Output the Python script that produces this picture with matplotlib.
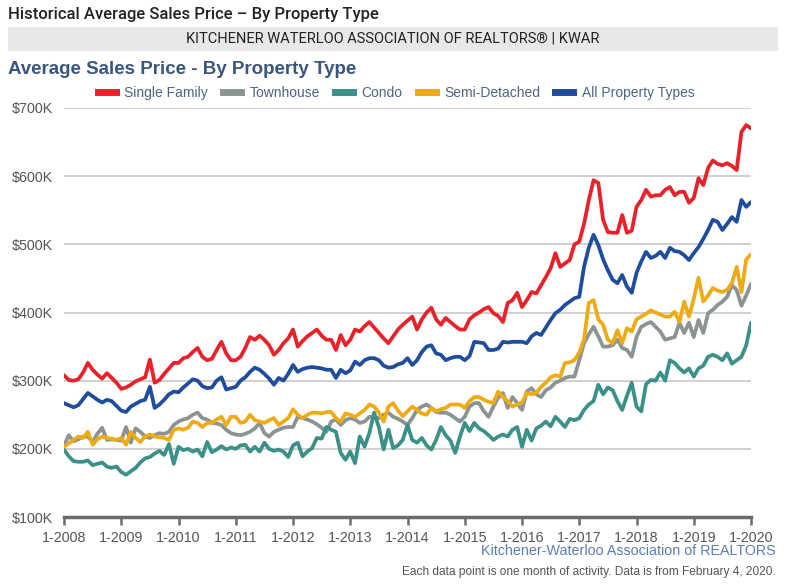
import numpy as np
import matplotlib
matplotlib.use('Agg')
import matplotlib.pyplot as plt
from matplotlib.lines import Line2D
from matplotlib.patches import Rectangle

plt.rcParams['font.family'] = ['Liberation Sans', 'DejaVu Sans']

# monthly average price in $K, Jan 2008 .. Jan 2020
single_family = [
    308, 301, 300, 302, 312, 326, 316, 309, 303, 311, 304, 297,
    288, 290, 294, 299, 302, 305, 331, 297, 301, 310, 318, 326,
    326, 333, 335, 342, 348, 335, 330, 332, 345, 357, 340, 330,
    330, 335, 348, 364, 360, 366, 360, 352, 338, 345, 355, 362,
    375, 350, 358, 365, 370, 375, 366, 360, 360, 345, 367, 352,
    360, 375, 372, 380, 386, 378, 370, 362, 355, 365, 375, 382,
    388, 394, 375, 390, 400, 407, 390, 382, 392, 386, 380, 375,
    375, 390, 396, 400, 405, 408, 399, 395, 386, 414, 418, 429,
    408, 418, 430, 428, 440, 452, 465, 487, 467, 472, 477, 500,
    504, 530, 565, 594, 590, 536, 518, 517, 517, 543, 517, 520,
    555, 565, 580, 570, 572, 572, 580, 584, 572, 577, 577, 561,
    568, 597, 587, 612, 623, 618, 616, 619, 615, 609, 665, 675,
    670]
townhouse = [
    205, 220, 211, 214, 218, 218, 210, 222, 231, 213, 214, 213,
    212, 232, 209, 230, 225, 218, 216, 220, 223, 222, 225, 235,
    240, 243, 245, 250, 253, 245, 243, 238, 237, 235, 228, 223,
    221, 220, 222, 225, 230, 238, 223, 218, 225, 228, 231, 232,
    232, 247, 245, 243, 240, 236, 231, 225, 240, 243, 235, 242,
    245, 243, 238, 240, 247, 246, 245, 250, 253, 247, 244, 240,
    235, 245, 257, 262, 265, 260, 254, 253, 253, 250, 245, 240,
    247, 262, 267, 267, 255, 247, 262, 275, 282, 260, 276, 267,
    257, 284, 289, 280, 276, 286, 290, 297, 300, 304, 306, 306,
    330, 355, 368, 379, 365, 350, 350, 352, 360, 348, 345, 335,
    364, 379, 383, 386, 379, 372, 360, 362, 364, 385, 370, 385,
    364, 389, 370, 399, 404, 411, 416, 423, 440, 433, 410, 425,
    442]
condo = [
    199, 189, 182, 181, 181, 183, 176, 178, 180, 174, 172, 174,
    166, 162, 167, 172, 180, 186, 188, 193, 197, 191, 207, 178,
    203, 198, 200, 196, 199, 189, 210, 195, 199, 204, 199, 202,
    200, 205, 206, 196, 203, 196, 209, 200, 197, 199, 196, 188,
    205, 209, 189, 196, 201, 216, 215, 232, 228, 225, 194, 184,
    196, 179, 218, 203, 223, 253, 232, 199, 228, 201, 205, 213,
    235, 213, 209, 216, 205, 199, 213, 232, 220, 212, 194, 218,
    238, 226, 238, 230, 226, 220, 213, 218, 221, 218, 228, 232,
    203, 228, 212, 230, 234, 240, 233, 247, 240, 232, 244, 242,
    245, 257, 265, 270, 294, 280, 290, 286, 270, 257, 278, 297,
    262, 255, 295, 301, 300, 312, 300, 330, 326, 318, 312, 318,
    306, 318, 322, 335, 338, 335, 330, 340, 325, 330, 335, 352,
    385]
semi_detached = [
    203, 208, 213, 218, 216, 225, 206, 214, 218, 216, 215, 213,
    216, 206, 225, 216, 210, 218, 221, 218, 217, 216, 213, 228,
    230, 228, 231, 240, 238, 232, 238, 238, 243, 247, 235, 247,
    247, 238, 240, 250, 242, 240, 238, 242, 245, 235, 240, 245,
    258, 250, 245, 250, 253, 253, 252, 254, 254, 245, 240, 252,
    250, 247, 252, 257, 265, 262, 253, 240, 262, 267, 256, 248,
    255, 262, 257, 252, 250, 260, 255, 258, 260, 265, 265, 265,
    260, 270, 276, 276, 272, 269, 267, 284, 276, 270, 262, 265,
    268, 282, 280, 282, 291, 297, 305, 308, 306, 326, 327, 330,
    341, 360, 414, 418, 390, 382, 360, 355, 374, 355, 377, 372,
    390, 394, 398, 403, 400, 397, 394, 394, 401, 386, 416, 394,
    420, 451, 416, 425, 436, 432, 430, 433, 443, 467, 430, 478,
    485]
all_types = [
    267, 264, 261, 264, 273, 282, 277, 272, 268, 272, 270, 263,
    256, 254, 262, 266, 270, 272, 291, 260, 265, 272, 280, 284,
    283, 290, 296, 302, 300, 292, 289, 290, 300, 305, 287, 289,
    291, 300, 305, 313, 319, 316, 310, 303, 294, 304, 300, 310,
    323, 313, 317, 319, 320, 319, 318, 316, 316, 304, 316, 311,
    315, 328, 323, 330, 333, 333, 330, 322, 319, 320, 324, 326,
    333, 323, 330, 342, 350, 352, 340, 338, 330, 333, 335, 335,
    330, 336, 357, 356, 355, 345, 345, 347, 357, 356, 357, 357,
    357, 355, 365, 370, 367, 378, 389, 399, 404, 411, 416, 421,
    423, 467, 495, 514, 499, 478, 462, 448, 443, 455, 438, 429,
    458, 475, 489, 480, 483, 489, 480, 495, 490, 489, 484, 477,
    487, 496, 508, 521, 536, 533, 521, 530, 540, 533, 565, 555,
    562]

series_names = ['Single Family', 'Townhouse', 'Condo', 'Semi-Detached', 'All Property Types']
series_data = [single_family, townhouse, condo, semi_detached, all_types]
colors = ['#e8212b', '#8b9393', '#3b9088', '#efab16', '#1f4c9c']
year_labels = ['1-%d' % y for y in range(2008, 2021)]
y_ticks = [100, 200, 300, 400, 500, 600, 700]

fig = plt.figure(figsize=(8, 5.88), dpi=100)

# header texts
fig.text(8/800, 1-14/588, 'Historical Average Sales Price \u2013 By Property Type',
         fontsize=12, family='Roboto', fontweight='medium', color='#222222', va='center')
fig.patches.append(Rectangle((8/800, 1-51/588), 770/800, 24/588, transform=fig.transFigure,
                             facecolor='#e8e8e8', edgecolor='none'))
fig.text(393/800, 1-39/588, 'KITCHENER WATERLOO ASSOCIATION OF REALTORS\u00ae | KWAR',
         fontsize=10.5, family='Roboto', color='#222222', ha='center', va='center')
fig.text(8/800, 1-70/588, 'Average Sales Price - By Property Type',
         fontsize=13.5, fontweight='bold', color='#3a5680', va='center')

ax = fig.add_axes([64/800, 1-517/588, 687/800, 409/588])
months = np.arange(len(single_family))
order = [1, 2, 3, 4, 0]
for i in order:
    ax.plot(months, series_data[i], color=colors[i], lw=2.7, solid_joinstyle='round',
            solid_capstyle='round', zorder=3)

ax.set_xlim(0, 144)
ax.set_ylim(100, 700)
ax.set_yticks(y_ticks)
ax.set_yticklabels(['$%dK' % v for v in y_ticks])
ax.set_xticks(np.arange(0, 145, 12))
ax.set_xticklabels(year_labels)
ax.grid(axis='y', color='#c8c8c8', lw=1.2)
ax.set_axisbelow(True)
for s in ['top', 'right', 'left']:
    ax.spines[s].set_visible(False)
ax.spines['bottom'].set_color('#6b6b6b')
ax.spines['bottom'].set_linewidth(2.5)
ax.spines['bottom'].set_zorder(4)
ax.tick_params(axis='x', length=6, width=1.8, color='#6b6b6b', labelsize=10.3,
               labelcolor='#555555', pad=4)
ax.tick_params(axis='y', length=0, labelsize=10.3, labelcolor='#555555', pad=8)

handles = [Line2D([0], [0], color=c, lw=5) for c in colors]
fig.legend(handles, series_names, loc='center', bbox_to_anchor=(396/800, 1-93/588),
           ncol=5, frameon=False, fontsize=10, handlelength=1.3, handletextpad=0.6,
           columnspacing=1.1, labelcolor='#4d6585')

fig.text(776/800, 1-551/588, 'Kitchener-Waterloo Association of REALTORS',
         fontsize=10.3, color='#5a7db3', ha='right', va='center')
fig.text(776/800, 1-572/588, 'Each data point is one month of activity. Data is from February 4, 2020.',
         fontsize=8.6, color='#555555', ha='right', va='center')

fig.savefig('out.png', dpi=100, facecolor='white')
